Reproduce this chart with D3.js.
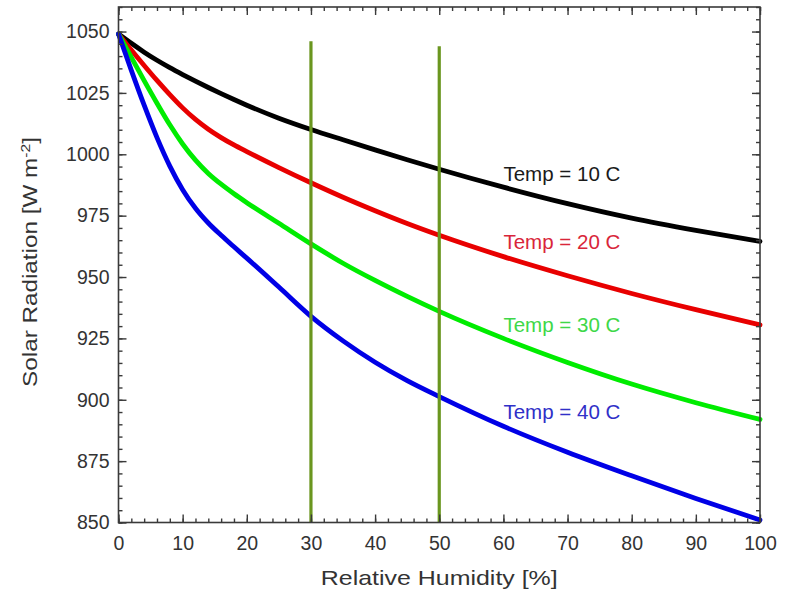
<!DOCTYPE html>
<html><head><meta charset="utf-8">
<script src="https://cdn.jsdelivr.net/npm/d3@7"></script>
<style>
html,body{margin:0;padding:0;background:#fff;}
svg{display:block;font-family:"Liberation Sans",Arial,sans-serif;}
</style></head>
<body>
<svg id="chart" width="788" height="594"></svg>
<script>
// ---- data ----
const humidity = [0,2,4,6,8,10,12,14,16,18,20,25,30,35,40,45,50,60,70,80,90,100];
const temp10 = [1049,1045.2,1041.6,1038.3,1035.3,1032.5,1029.8,1027.2,1024.7,1022.3,1020,1014.7,1010.1,1005.9,1001.8,997.8,993.9,986.6,979.9,974,969,964.5];
const temp20 = [1049,1042.5,1036.2,1030.1,1024.3,1018.9,1014.2,1010.2,1006.8,1003.8,1001.1,994.6,988.4,982.5,977,971.8,967,958.3,950.5,943.3,936.7,930.5];
const temp30 = [1049,1039.5,1030,1020.8,1012,1004.2,997.6,992.2,987.8,983.9,980.3,971.9,963.5,955.6,948.6,942.1,936,925,915.2,906.4,898.8,892];
const temp40 = [1049,1034.2,1020,1006.8,995.2,985.6,978,972,967,962.3,957.7,945.9,934,924,915.3,907.8,901.3,889.2,878.6,869,859.8,851];
const seriesNames = ["Temp = 10 C","Temp = 20 C","Temp = 30 C","Temp = 40 C"];
const labelX = [60,60,60,60];
const labelY = [989,961.5,927.5,892];
const markerX = [30,50];
const markerTop = [1046,1044];
const xTicks = [0,10,20,30,40,50,60,70,80,90,100];
const yTicks = [850,875,900,925,950,975,1000,1025,1050];

// ---- styles ----
const lineColors = ["#000000","#e80000","#00ec00","#0000e6"];
const textColors = ["#1a1a1a","#d9263a","#3ed848","#3030c8"];

const svg = d3.select("#chart");
const m = {l:118.5, r:760, t:7, b:522.5};
const x = d3.scaleLinear().domain([0,100]).range([m.l,m.r]);
const y = d3.scaleLinear().domain([850,1060]).range([m.b,m.t]);

const series = [temp10,temp20,temp30,temp40];
const line = d3.line().x((d,i)=>x(humidity[i])).y(d=>y(d)).curve(d3.curveMonotoneX);

// curves
svg.append("g").selectAll("path").data(series).join("path")
  .attr("d",line).attr("fill","none")
  .attr("stroke",(d,i)=>lineColors[i]).attr("stroke-width",4.8)
  .attr("stroke-linecap","round").attr("stroke-linejoin","round");

// marker verticals (on top)
svg.append("g").selectAll("line").data(markerX).join("line")
  .attr("x1",d=>x(d)).attr("x2",d=>x(d))
  .attr("y1",(d,i)=>y(markerTop[i])).attr("y2",y(850))
  .attr("stroke","#6a961f").attr("stroke-width",3.2);

// axes with inward ticks
const axCol = "#3a3a3a";
function styleAxis(g){
  g.select(".domain").remove();
  g.selectAll("line").attr("stroke",axCol).attr("stroke-width",1.4);
  g.selectAll("text").attr("fill","#333").style("font-size","19.5px");
}
const xMinor = d3.range(0,101,2);
const yMinor = d3.range(850,1061,5);

svg.append("g").attr("transform",`translate(0,${m.b})`)
  .call(d3.axisBottom(x).tickValues(xMinor).tickSize(-4).tickFormat("")).call(styleAxis);
svg.append("g").attr("transform",`translate(0,${m.b})`)
  .call(d3.axisBottom(x).tickValues(xTicks).tickSize(-8).tickPadding(14).tickFormat(d3.format("d"))).call(styleAxis);
svg.append("g").attr("transform",`translate(0,${m.t})`)
  .call(d3.axisTop(x).tickValues(xMinor).tickSize(-4).tickFormat("")).call(styleAxis);
svg.append("g").attr("transform",`translate(0,${m.t})`)
  .call(d3.axisTop(x).tickValues(xTicks).tickSize(-8).tickFormat("")).call(styleAxis);
svg.append("g").attr("transform",`translate(${m.l},0)`)
  .call(d3.axisLeft(y).tickValues(yMinor).tickSize(-4).tickFormat("")).call(styleAxis);
svg.append("g").attr("transform",`translate(${m.l},0)`)
  .call(d3.axisLeft(y).tickValues(yTicks).tickSize(-8).tickPadding(9).tickFormat(d3.format("d"))).call(styleAxis);
svg.append("g").attr("transform",`translate(${m.r},0)`)
  .call(d3.axisRight(y).tickValues(yMinor).tickSize(-4).tickFormat("")).call(styleAxis);
svg.append("g").attr("transform",`translate(${m.r},0)`)
  .call(d3.axisRight(y).tickValues(yTicks).tickSize(-8).tickFormat("")).call(styleAxis);

// frame
svg.append("rect").attr("x",m.l).attr("y",m.t).attr("width",m.r-m.l).attr("height",m.b-m.t)
  .attr("fill","none").attr("stroke",axCol).attr("stroke-width",1.6);

// helper: stretch text horizontally to a target width
function stretch(t, target){
  const w = t.node().getComputedTextLength();
  return target / w;
}

// series labels
svg.append("g").selectAll("text").data(seriesNames).join("text")
  .attr("fill",(d,i)=>textColors[i]).style("font-size","19.5px")
  .text(d=>d)
  .each(function(d,i){
    const t = d3.select(this);
    const k = stretch(t,117);
    t.attr("transform",`translate(${x(labelX[i])},${y(labelY[i])}) scale(${k},1)`);
  });

// axis titles
const xt = svg.append("text").attr("text-anchor","middle")
  .attr("fill","#333").style("font-size","21px").text("Relative Humidity [%]");
xt.attr("transform",`translate(${(m.l+m.r)/2},585) scale(${stretch(xt,237)},1)`);

const yt = svg.append("text").attr("text-anchor","middle").attr("fill","#333").style("font-size","21px");
yt.append("tspan").text("Solar Radiation [W m");
yt.append("tspan").attr("baseline-shift","super").style("font-size","13.5px").text("-2");
yt.append("tspan").text("]");
const yk = 250 / yt.node().getBBox().width;
yt.attr("transform",`translate(37,262) rotate(-90) scale(${yk},1)`);
</script>
</body></html>
